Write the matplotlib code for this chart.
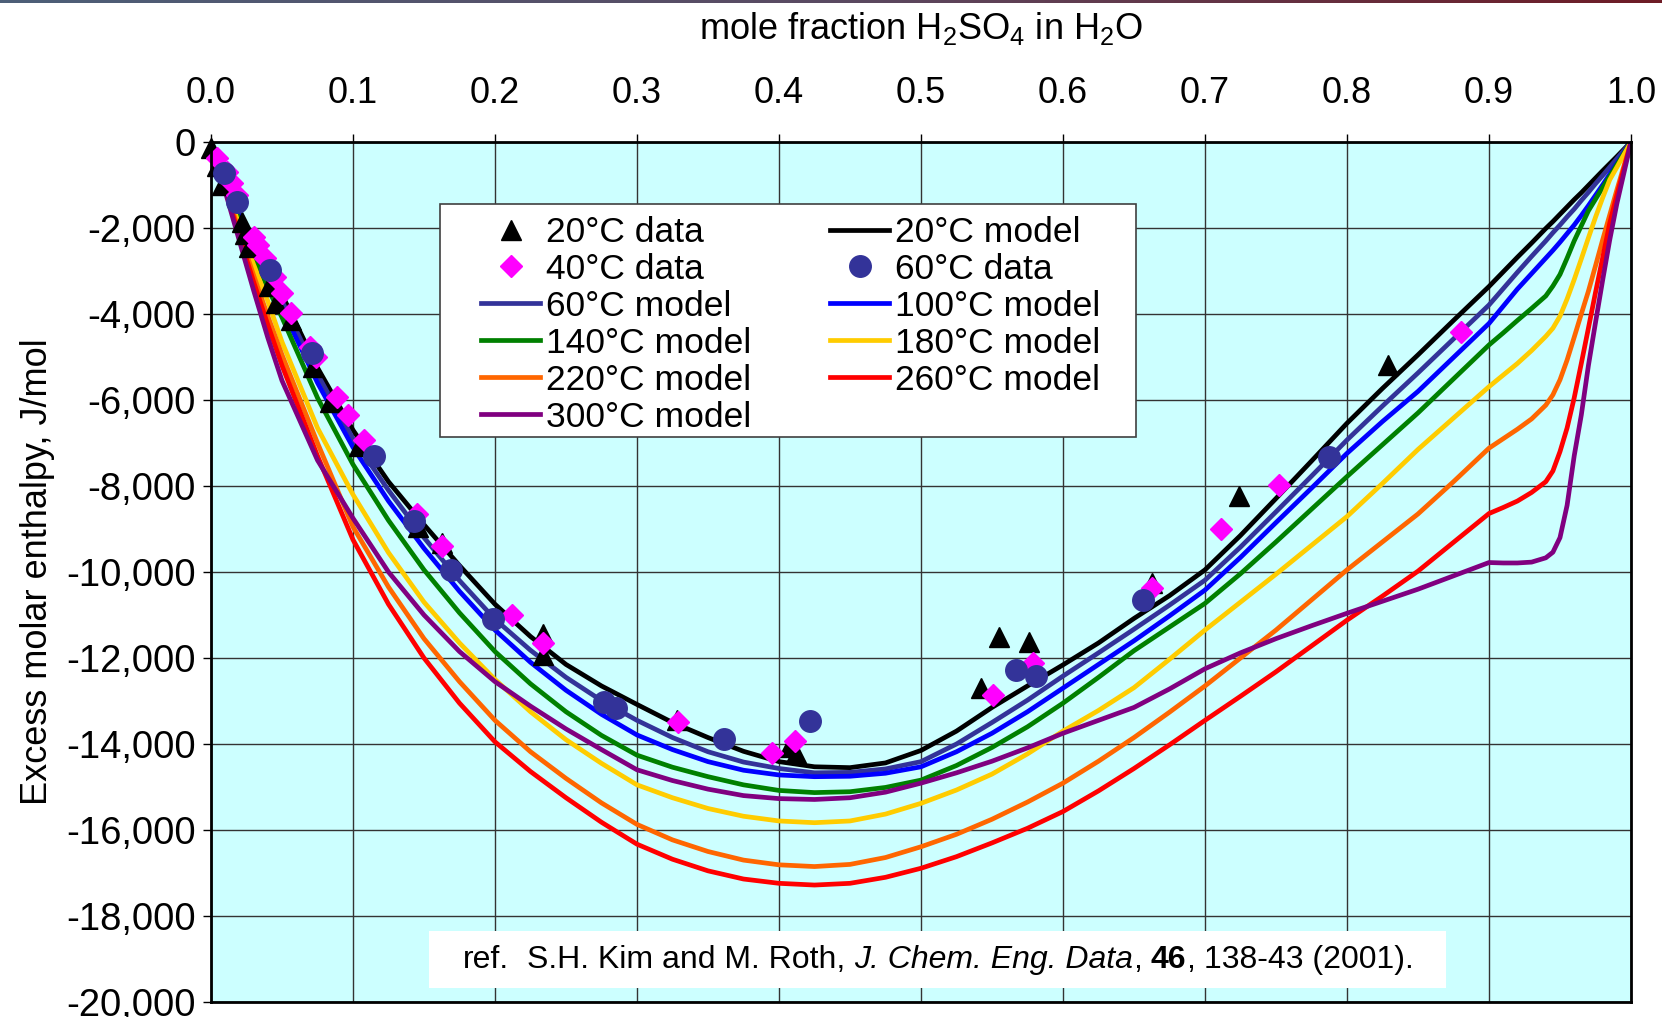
import matplotlib
matplotlib.use('Agg')
import numpy as np
import matplotlib.pyplot as plt
from matplotlib.patches import Rectangle
from matplotlib.ticker import FuncFormatter, MultipleLocator
from matplotlib.colors import LinearSegmentedColormap

plt.rcParams['font.family'] = ['Liberation Sans', 'DejaVu Sans']
plt.rcParams['mathtext.fontset'] = 'custom'
plt.rcParams['mathtext.rm'] = 'Liberation Sans'
plt.rcParams['mathtext.it'] = 'Liberation Sans:italic'

# mole fraction grid shared by all model curves
x_model = [0.0, 0.01, 0.02, 0.03, 0.04, 0.05, 0.075,
           0.1, 0.125, 0.15, 0.175, 0.2, 0.225, 0.25, 0.275, 0.3, 0.325, 0.35, 0.375,
           0.4, 0.425, 0.45, 0.475, 0.5, 0.525, 0.55, 0.575, 0.6, 0.625, 0.65, 0.675,
           0.7, 0.725, 0.75, 0.775, 0.8, 0.825, 0.85, 0.875, 0.9,
           0.91, 0.92, 0.93, 0.94,
           0.945, 0.95, 0.955, 0.96, 0.965, 0.97, 0.975, 0.98, 0.985, 0.99, 1.0]

# excess molar enthalpy (J/mol) from the model at each temperature
h_20 = [0, -850, -1650, -2350, -3000, -3550, -5250,
        -6700, -7900, -8900, -9850, -10750, -11500, -12150, -12650, -13080, -13500, -13850,
        -14170, -14410, -14530, -14550, -14440, -14150, -13700, -13150, -12650, -12160,
        -11650, -11080, -10550, -9950, -9150, -8290, -7420, -6540, -5730, -4950, -4150, -3360,
        -3020, -2680, -2350, -2010,
        -1850, -1680, -1510, -1340, -1180, -1010, -840, -670, -505, -340, 0]
h_60 = [0, -870, -1700, -2430, -3100, -3700, -5400,
        -6900, -8100, -9200, -10200, -11100, -11820, -12450, -12990, -13450, -13850, -14180,
        -14420, -14570, -14670, -14660, -14580, -14410, -14000, -13500, -12980, -12420,
        -11880, -11330, -10770, -10190, -9420, -8600, -7770, -6930, -6140, -5370, -4580, -3790,
        -3410, -3030, -2660, -2300,
        -2110, -1930, -1740, -1560, -1360, -1170, -970, -780, -585, -390, 0]
h_100 = [0, -900, -1750, -2520, -3230, -3870, -5600,
         -7100, -8350, -9450, -10450, -11350, -12100, -12750, -13310, -13790, -14130, -14410,
         -14610, -14720, -14760, -14750, -14680, -14530, -14180, -13750, -13250, -12700,
         -12150, -11600, -11020, -10420, -9660, -8850, -8050, -7240, -6500, -5800, -5010, -4220,
         -3820, -3420, -3060, -2700,
         -2520, -2330, -2130, -1930, -1710, -1480, -1240, -1000, -750, -500, 0]
h_140 = [0, -930, -1830, -2650, -3400, -4080, -5950,
         -7500, -8800, -9950, -10950, -11850, -12600, -13250, -13800, -14260, -14540, -14760,
         -14950, -15080, -15130, -15110, -15010, -14840, -14500, -14080, -13600, -13050,
         -12450, -11830, -11280, -10730, -10040, -9300, -8540, -7780, -7040, -6300, -5510, -4720,
         -4440, -4150, -3870, -3580,
         -3350, -3080, -2700, -2300, -1950, -1600, -1330, -1060, -800, -530, 0]
h_180 = [0, -980, -1950, -2850, -3700, -4650, -6650,
         -8200, -9550, -10700, -11650, -12500, -13250, -13900, -14450, -14950, -15250, -15500,
         -15680, -15790, -15830, -15790, -15630, -15380, -15070, -14700, -14230, -13700,
         -13220, -12690, -12030, -11350, -10700, -10050, -9380, -8710, -7940, -7150, -6420, -5690,
         -5420, -5150, -4850, -4520,
         -4330, -4050, -3650, -3200, -2720, -2230, -1750, -1300, -880, -590, 0]
h_220 = [0, -1050, -2100, -3100, -4050, -4950, -7000,
         -8950, -10350, -11550, -12550, -13450, -14180, -14800, -15370, -15870, -16230, -16500,
         -16700, -16810, -16850, -16800, -16640, -16390, -16100, -15750, -15350, -14910,
         -14400, -13850, -13260, -12650, -12000, -11350, -10650, -9950, -9300, -8650, -7900, -7120,
         -6900, -6680, -6440, -6120,
         -5880, -5530, -5070, -4540, -4000, -3470, -2880, -2280, -1700, -1120, 0]
h_260 = [0, -1100, -2200, -3250, -4250, -5200, -7300,
         -9250, -10750, -12000, -13050, -13950, -14640, -15250, -15820, -16330, -16680, -16950,
         -17140, -17240, -17280, -17240, -17100, -16890, -16620, -16300, -15960, -15570,
         -15090, -14570, -14020, -13450, -12890, -12320, -11720, -11120, -10560, -9980, -9310, -8640,
         -8500, -8350, -8150, -7900,
         -7650, -7200, -6650, -5950, -5150, -4330, -3500, -2700, -1890, -1240, 0]
h_300 = [0, -1150, -2300, -3450, -4550, -5550, -7400,
         -8750, -10000, -11000, -11850, -12550, -13120, -13650, -14130, -14600, -14850, -15050,
         -15200, -15270, -15290, -15250, -15120, -14910, -14670, -14400, -14090, -13750,
         -13450, -13150, -12720, -12250, -11880, -11550, -11250, -10960, -10680, -10400, -10090, -9780,
         -9790, -9790, -9770, -9670,
         -9540, -9200, -8450, -7300, -6350, -5200, -4200, -3220, -2280, -1440, 0]

# measured data (Kim and Roth 2001)
x_20C = [0.000, 0.004, 0.008, 0.022, 0.024, 0.027, 0.041, 0.046, 0.056, 0.072, 0.084,
         0.104, 0.146, 0.163, 0.234, 0.234, 0.328, 0.407, 0.412, 0.542, 0.555, 0.576,
         0.663, 0.724, 0.829]
y_20C = [-150, -550, -1000, -1850, -2150, -2450, -3350, -3750, -4130, -5230, -6050,
         -7080, -8950, -9320, -11450, -11920, -13450, -14080, -14220, -12700, -11520,
         -11620, -10250, -8240, -5180]
x_40C = [0.004, 0.011, 0.015, 0.018, 0.030, 0.033, 0.038, 0.045, 0.050, 0.056, 0.070,
         0.074, 0.0885, 0.0965, 0.108, 0.145, 0.163, 0.212, 0.234, 0.329, 0.395, 0.411,
         0.5505, 0.5787, 0.663, 0.711, 0.752, 0.880]
y_40C = [-380, -690, -960, -1230, -2200, -2400, -2700, -3130, -3520, -3980, -4760,
         -5000, -5920, -6350, -6930, -8650, -9400, -11010, -11660, -13490, -14200, -13930,
         -12860, -12110, -10380, -8990, -7980, -4410]
x_60C = [0.009, 0.018, 0.0415, 0.071, 0.1145, 0.143, 0.169, 0.1985, 0.2765, 0.2855,
         0.3612, 0.4217, 0.5669, 0.5808, 0.6566, 0.7876]
y_60C = [-730, -1390, -2980, -4910, -7300, -8815, -9945, -11090, -13020, -13160,
         -13880, -13455, -12280, -12420, -10650, -7320]

models = [
    ('20°C model', h_20, 'black'),
    ('60°C model', h_60, '#333399'),
    ('100°C model', h_100, '#0000ff'),
    ('140°C model', h_140, '#008000'),
    ('180°C model', h_180, '#ffcc00'),
    ('220°C model', h_220, '#ff6600'),
    ('260°C model', h_260, '#ff0000'),
    ('300°C model', h_300, '#800080'),
]

fig = plt.figure(figsize=(16.62, 10.17), dpi=100)
ax = fig.add_axes([211 / 1662, 1 - 1002 / 1017, 1420 / 1662, 860 / 1017])
ax.set_facecolor('#ccffff')

lines = {}
for name, h, c in models:
    lines[name], = ax.plot(x_model, h, color=c, lw=3.4, label=name, zorder=3,
                           solid_joinstyle='round')

# data points are not clipped so the point at x = 0 shows whole
p20, = ax.plot(x_20C, y_20C, ls='none', marker='^', ms=14, color='black',
               label='20°C data', zorder=4, clip_on=False)
p40, = ax.plot(x_40C, y_40C, ls='none', marker='D', ms=11, color='#ff00ff',
               label='40°C data', zorder=5, clip_on=False)
p60, = ax.plot(x_60C, y_60C, ls='none', marker='o', ms=15.5, color='#333399',
               label='60°C data', zorder=6, clip_on=False)

ax.set_xlim(0, 1)
ax.set_ylim(-20000, 0)
ax.xaxis.set_major_locator(MultipleLocator(0.1))
ax.yaxis.set_major_locator(MultipleLocator(2000))
ax.xaxis.set_major_formatter(FuncFormatter(lambda v, p: f'{v:.1f}'))
ax.yaxis.set_major_formatter(FuncFormatter(lambda v, p: f'{v:,.0f}' if abs(v) > 0.5 else '0'))
ax.xaxis.tick_top()
ax.xaxis.set_label_position('top')
ax.tick_params(axis='both', direction='out', length=6, width=1, color='black')
ax.tick_params(axis='x', pad=16, labelsize=26)
ax.tick_params(axis='y', pad=5, labelsize=27.5)
ax.grid(True, color='#333333', lw=1.0, zorder=1)
ax.set_axisbelow(True)
for s in ax.spines.values():
    s.set_linewidth(2)
    s.set_color('black')
    s.set_zorder(7)

ax.set_xlabel('mole fraction H$_2$SO$_4$ in H$_2$O', fontsize=26, labelpad=27)
ax.set_ylabel('Excess molar enthalpy, J/mol', fontsize=26, labelpad=8)

# legend box drawn by hand, entries laid out row-wise
ax.add_patch(Rectangle((0.1613, 0.657), 0.4901, 0.2709, transform=ax.transAxes,
                       facecolor='white', edgecolor='#404040', lw=1.2, zorder=8))
handles = [p20, p40, lines['60°C model'], lines['140°C model'], lines['220°C model'],
           lines['300°C model'], lines['20°C model'], p60, lines['100°C model'],
           lines['180°C model'], lines['260°C model']]
leg = ax.legend(handles=handles, labels=[h.get_label() for h in handles], ncol=2,
                loc='center left', bbox_to_anchor=(0.1901, 0.7875), frameon=False,
                fontsize=25.5, numpoints=1, handlelength=1.67, handletextpad=0.17,
                columnspacing=2.22, labelspacing=0.111, borderpad=0, borderaxespad=0)
leg.set_zorder(9)

# citation box, text assembled from plain, italic and bold pieces
ax.add_patch(Rectangle((0.1535, 0.016), 0.7165, 0.0666, transform=ax.transAxes,
                       facecolor='white', edgecolor='none', zorder=8))
cite_size = 23
pieces = [('ref.', 'normal', 'normal', 2),
          ('S.H. Kim and M. Roth,', 'normal', 'normal', 1),
          ('J. Chem. Eng. Data', 'italic', 'normal', 0),
          (',', 'normal', 'normal', 1),
          ('46', 'normal', 'bold', 0),
          (',', 'normal', 'normal', 1),
          ('138-43 (2001).', 'normal', 'normal', 0)]
renderer = fig.canvas.get_renderer()
probe_a = fig.text(0, 0, 'x x', fontsize=cite_size)
probe_b = fig.text(0, 0, 'xx', fontsize=cite_size)
space_px = (probe_a.get_window_extent(renderer).width
            - probe_b.get_window_extent(renderer).width)
probe_a.remove()
probe_b.remove()

texts = []
widths = []
for s, style, weight, gap in pieces:
    t = ax.text(0, 0.049, s, transform=ax.transAxes, ha='left', va='center',
                fontsize=cite_size, fontstyle=style, fontweight=weight, zorder=9)
    texts.append(t)
    widths.append(t.get_window_extent(renderer).width + gap * space_px)
ax_w = ax.get_window_extent(renderer).width
xpos = 0.512 - sum(widths) / ax_w / 2
for t, w in zip(texts, widths):
    t.set_x(xpos)
    xpos += w / ax_w

# thin banner strip along the top edge
band = fig.add_axes([0, 1 - 3 / 1017, 1, 3 / 1017])
band.imshow(np.linspace(0, 1, 256)[None, :], aspect='auto',
            cmap=LinearSegmentedColormap.from_list('band', ['#4d5f78', '#5a4a62', '#6e1c26']))
band.axis('off')

fig.savefig('out.png', dpi=100)
